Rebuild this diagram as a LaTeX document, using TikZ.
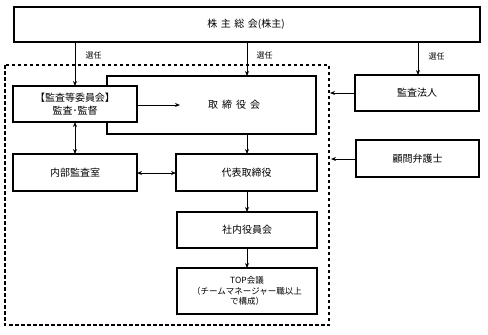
\documentclass[tikz,border=0pt]{standalone}
\usepackage{fontspec}
\setmainfont{Noto Sans CJK JP}
\usetikzlibrary{arrows.meta}
\begin{document}
\begin{tikzpicture}[x=1pt,y=-1pt,
  box/.style={draw,line width=1.2pt,fill=white,inner sep=0pt},
  arr/.style={-{Stealth[length=5pt,width=4pt]},line width=1pt},
  darr/.style={{Stealth[length=5pt,width=4pt]}-{Stealth[length=5pt,width=4pt]},line width=1pt},
  lbl/.style={font=\fontsize{8}{9}\selectfont,anchor=west},
  txt/.style={font=\fontsize{10}{12}\selectfont,align=center}]
\useasboundingbox (0,0) rectangle (488,335);
% dashed frame
\draw[line width=1.1pt,dash pattern=on 3.5pt off 2.5pt] (5,65) rectangle (329,325);
% boxes
\draw[box] (14,7) rectangle (480,42);
\node[txt] (agm) at (246,24.5) {株\hspace{3.5pt}主\hspace{3.5pt}総\hspace{3.5pt}会(株主)};
\coordinate (agmS1) at (75,42);
\coordinate (agmS2) at (247,42);
\coordinate (agmS3) at (418,42);

\draw[box] (107,76) rectangle (316,134);
\node[txt] (board) at (234,105) {取\hspace{4pt}締\hspace{4pt}役\hspace{4pt}会};
\coordinate (boardN) at (247,76);
\coordinate (boardS) at (247,134);

\draw[box] (13,86) rectangle (137,122);
\node[txt,font=\fontsize{10}{13}\selectfont] (comm) at (75,104) {【監査等委員会】\\監査･監督};
\coordinate (commE) at (137,105);
\coordinate (commN) at (75,86);
\coordinate (commS) at (75,122);
\coordinate (boardT) at (180,105);

\draw[box] (355,75) rectangle (479,111);
\node[txt] (audit) at (417,93) {監査法人};
\coordinate (auditW) at (355,93);
\coordinate (auditN) at (418,75);
\coordinate (frameA) at (330,93);

\draw[box] (356,140) rectangle (479,177);
\node[txt] (lawyer) at (417.5,158.5) {顧問弁護士};
\coordinate (lawyerW) at (356,159);
\coordinate (frameB) at (331,159);

\draw[box] (13,154) rectangle (137,191);
\node[txt] (ia) at (75,172.5) {内部監査室};
\coordinate (iaN) at (75,154);
\coordinate (iaE) at (137,173);

\draw[box] (176,154) rectangle (317,191);
\node[txt] (rep) at (246.5,172.5) {代表取締役};
\coordinate (repW) at (176,173);
\coordinate (repN) at (247,154);
\coordinate (repS) at (247,191);

\draw[box] (177,212) rectangle (317,248);
\node[txt] (exec) at (247,230) {社内役員会};
\coordinate (execN) at (247,212);
\coordinate (execS) at (247,248);

\draw[box] (177,268) rectangle (317,314);
\node[txt,font=\fontsize{8.5}{10.5}\selectfont] (top) at (247,291) {TOP会議\\（チームマネージャー職以上\\で構成）};
\coordinate (topN) at (247,268);

% connectors
\draw[arr] (agmS1) -- (commN);
\draw[arr] (agmS2) -- (boardN);
\draw[arr] (agmS3) -- (auditN);
\node[lbl] (l1) at (82,55) {選任};
\node[lbl] (l2) at (253,55) {選任};
\node[lbl] (l3) at (425,56) {選任};
\draw[arr] (commE) -- (boardT);
\draw[arr] (auditW) -- (frameA);
\draw[arr] (lawyerW) -- (frameB);
\draw[darr] (commS) -- (iaN);
\draw[darr] (iaE) -- (repW);
\draw[arr] (boardS) -- (repN);
\draw[arr] (repS) -- (execN);
\draw[arr] (execS) -- (topN);
\end{tikzpicture}
\end{document}
